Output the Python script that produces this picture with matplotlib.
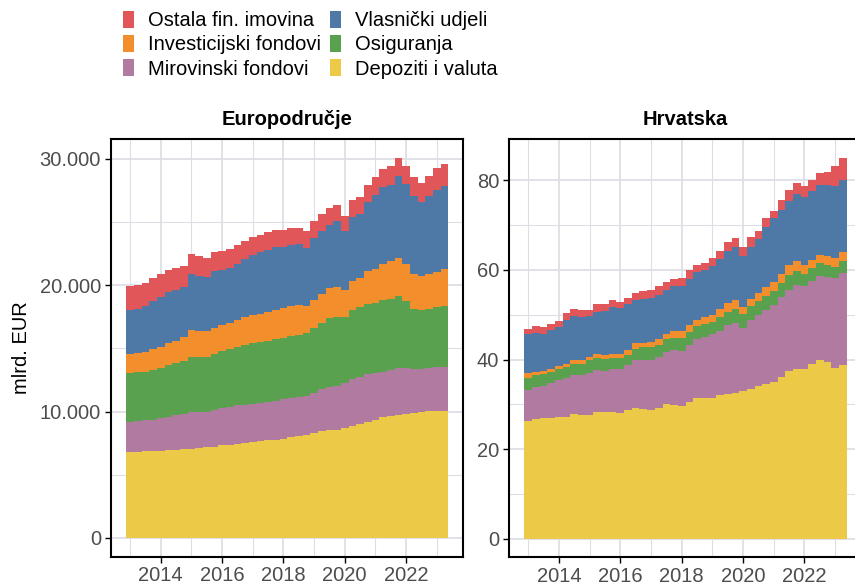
import matplotlib
matplotlib.use("Agg")
import matplotlib.pyplot as plt
from matplotlib.patches import Patch
from matplotlib.ticker import FuncFormatter, MultipleLocator

plt.rcParams['font.family'] = ['Liberation Sans', 'DejaVu Sans']

# quarters 2013Q1 .. 2023Q2 (decimal years)
quarters = [2013 + 0.25 * i for i in range(42)]

series_names = ["Depoziti i valuta", "Mirovinski fondovi", "Osiguranja",
                "Investicijski fondovi", "Vlasnički udjeli", "Ostala fin. imovina"]
colors = ["#EDC948", "#B07AA1", "#59A14F", "#F28E2B", "#4E79A7", "#E15759"]

# Europodručje (mlrd. EUR)
ea_depoziti = [6800, 6800, 6850, 6880, 6900, 6930, 6960, 7010, 7060, 7110, 7190, 7240, 7320, 7370,
               7450, 7510, 7590, 7660, 7740, 7790, 7850, 8000, 8110, 8190, 8320, 8430, 8530, 8580,
               8690, 8900, 9050, 9210, 9370, 9580, 9690, 9770, 9840, 9900, 9970, 10030, 10080, 10080]
ea_mirovinski = [2340, 2420, 2450, 2470, 2580, 2680, 2780, 2810, 2920, 2840, 2810, 2900, 2950, 3030,
                 3060, 3050, 3020, 3010, 3000, 3080, 3130, 3040, 3030, 3080, 3130, 3360, 3450, 3480,
                 3550, 3660, 3720, 3770, 3660, 3580, 3600, 3650, 3580, 3470, 3380, 3420, 3420, 3450]
ea_osiguranja = [3940, 3890, 3860, 3940, 3940, 4050, 4080, 4210, 4360, 4340, 4340, 4420, 4520, 4550,
                 4620, 4700, 4840, 4860, 4870, 4840, 4860, 4910, 4890, 4920, 5180, 5260, 5440, 5390,
                 5260, 5470, 5470, 5570, 5580, 5660, 5660, 5740, 5320, 4790, 4680, 4680, 4740, 4810]
ea_investicijski = [1450, 1500, 1550, 1630, 1660, 1740, 1760, 1840, 2110, 2110, 2060, 2070, 2050, 2100,
                    2110, 2190, 2180, 2230, 2290, 2370, 2350, 2400, 2370, 2180, 2240, 2290, 2370, 2420,
                    2110, 2310, 2360, 2550, 2710, 2890, 2940, 3000, 2920, 2760, 2680, 2740, 2810, 2920]
ea_vlasnicki = [3550, 3520, 3630, 3820, 4000, 4050, 4080, 4000, 4440, 4360, 4230, 4500, 4400, 4340,
                4470, 4630, 4790, 4840, 4860, 4920, 4860, 4830, 4830, 4600, 4860, 4920, 4940, 5180,
                4680, 5050, 5050, 5480, 5830, 6050, 6080, 6470, 6360, 6130, 5870, 6180, 6520, 6630]
ea_ostala = [1870, 1870, 1840, 1840, 1790, 1790, 1710, 1680, 1580, 1530, 1500, 1530, 1470, 1450,
             1450, 1390, 1370, 1370, 1420, 1390, 1310, 1320, 1290, 1320, 1350, 1340, 1400, 1340,
             1230, 1370, 1370, 1390, 1400, 1440, 1450, 1440, 1450, 1550, 1490, 1580, 1690, 1710]

# Hrvatska (mlrd. EUR)
hr_depoziti = [26.4, 26.7, 26.9, 27.0, 27.2, 27.3, 27.8, 27.6, 27.6, 28.3, 28.3, 28.3, 28.1, 28.7,
               29.1, 29.0, 28.7, 29.1, 30.0, 29.9, 29.6, 30.6, 31.4, 31.5, 31.4, 32.0, 32.4, 32.6,
               32.9, 33.5, 34.0, 34.6, 35.0, 36.2, 37.4, 37.9, 37.9, 38.9, 39.9, 39.4, 38.1, 38.7]
hr_mirovinski = [6.9, 7.2, 7.2, 7.7, 8.2, 8.5, 8.7, 8.9, 9.5, 9.3, 9.1, 9.5, 9.9, 10.0,
                 10.8, 11.0, 11.3, 11.5, 11.7, 12.3, 12.3, 12.7, 13.1, 13.5, 14.2, 14.4, 15.2, 15.5,
                 14.1, 15.4, 16.0, 16.5, 17.2, 17.7, 18.2, 18.8, 18.4, 18.7, 18.8, 19.1, 20.0, 20.6]
hr_osiguranja = [2.7, 2.6, 2.6, 2.6, 2.4, 2.6, 2.5, 2.6, 2.8, 2.8, 2.7, 2.6, 2.4, 2.3,
                 2.5, 2.7, 2.7, 2.7, 2.8, 2.7, 2.8, 2.8, 2.9, 3.0, 2.7, 3.0, 3.1, 3.2,
                 3.1, 3.0, 3.0, 3.0, 3.0, 3.1, 3.3, 3.1, 2.7, 2.8, 2.8, 2.6, 2.6, 2.7]
hr_investicijski = [0.9, 0.8, 0.7, 0.7, 0.8, 0.6, 0.9, 0.9, 0.7, 0.9, 0.9, 0.9, 0.9, 1.1,
                    1.2, 1.1, 1.2, 1.2, 1.3, 1.5, 1.7, 1.5, 1.5, 1.4, 1.7, 1.9, 1.9, 2.0,
                    1.6, 1.7, 1.8, 2.0, 2.0, 2.1, 2.1, 2.2, 2.1, 1.8, 1.8, 2.0, 1.9, 1.9]
hr_vlasnicki = [8.7, 8.6, 8.4, 8.5, 8.7, 9.9, 9.9, 9.5, 9.0, 9.4, 9.8, 10.4, 10.2, 10.2,
                9.7, 9.8, 9.9, 9.9, 9.6, 9.9, 10.1, 10.4, 10.6, 10.6, 10.9, 11.1, 11.5, 11.7,
                11.3, 11.6, 12.0, 13.5, 14.3, 14.2, 14.4, 14.8, 15.2, 15.4, 15.6, 15.8, 16.1, 16.2]
hr_ostala = [1.3, 1.6, 1.5, 1.5, 1.4, 1.5, 1.5, 1.5, 1.4, 1.6, 1.5, 1.5, 1.3, 1.5,
             1.6, 1.6, 1.6, 1.9, 1.9, 1.7, 1.6, 1.9, 1.6, 1.6, 1.7, 1.8, 2.0, 2.0,
             2.0, 2.1, 1.9, 2.0, 1.6, 2.3, 2.4, 2.5, 2.4, 2.5, 2.7, 3.0, 4.4, 4.9]

ea_data = [ea_depoziti, ea_mirovinski, ea_osiguranja, ea_investicijski, ea_vlasnicki, ea_ostala]
hr_data = [hr_depoziti, hr_mirovinski, hr_osiguranja, hr_investicijski, hr_vlasnicki, hr_ostala]

W, H = 855, 587
fig = plt.figure(figsize=(W / 100, H / 100), dpi=100)
fig.patch.set_facecolor("white")

def px_axes(x0, y0, x1, y1):
    return fig.add_axes([x0 / W, 1 - y1 / H, (x1 - x0) / W, (y1 - y0) / H])

ax1 = px_axes(110.7, 139.3, 463.0, 556.7)
ax2 = px_axes(509.0, 139.3, 861.3, 557.3)

grid_c = "#DEDFE6"
tick_c = "#4D4D4D"

def draw(ax, data, ylim, major, minor, fmt, title):
    bottom = [0.0] * len(quarters)
    for vals, col in zip(data, colors):
        ax.bar(quarters, vals, width=0.25, bottom=bottom, color=col, linewidth=0,
               align="center", zorder=2)
        bottom = [b + v for b, v in zip(bottom, vals)]
    ax.set_xlim(2012.37, 2023.857)
    ax.set_ylim(*ylim)
    ax.xaxis.set_major_locator(MultipleLocator(2))
    ax.xaxis.set_minor_locator(MultipleLocator(1))
    ax.yaxis.set_major_locator(MultipleLocator(major))
    ax.yaxis.set_minor_locator(MultipleLocator(minor))
    ax.xaxis.set_major_formatter(FuncFormatter(lambda v, p: f"{int(round(v))}"))
    ax.yaxis.set_major_formatter(FuncFormatter(fmt))
    ax.grid(which="major", color=grid_c, linewidth=1.3, zorder=0)
    ax.grid(which="minor", color=grid_c, linewidth=0.8, zorder=0)
    ax.set_axisbelow(True)
    ax.tick_params(which="major", direction="out", length=4.5, width=1.0, color="black",
                   labelcolor=tick_c, labelsize=14.5, pad=2.5)
    ax.tick_params(which="minor", length=0)
    for s in ax.spines.values():
        s.set_linewidth(1.5)
        s.set_color("black")
        s.set_zorder(5)
    ax.set_title(title, fontsize=14.5, fontweight="bold", pad=10, color="black")

ea_fmt = lambda v, p: f"{int(round(v)):,}".replace(",", ".")
hr_fmt = lambda v, p: f"{int(round(v))}"

draw(ax1, ea_data, (-1480, 31550), 10000, 5000, ea_fmt, "Europodručje")
draw(ax2, hr_data, (-4.08, 89.1), 20, 10, hr_fmt, "Hrvatska")

ax1.set_ylabel("mlrd. EUR", fontsize=14.5, color="black", labelpad=6)

# legend (order as in reference: column-wise)
order = [5, 3, 1, 4, 2, 0]
handles = [Patch(facecolor=colors[i], edgecolor="none") for i in order]
labels = [series_names[i] for i in order]
fig.legend(handles, labels, ncol=2, loc="upper left",
           bbox_to_anchor=(122.5 / W, 1 - 11 / H), frameon=False, fontsize=14.5,
           handlelength=0.55, handleheight=0.9, handletextpad=0.7,
           columnspacing=0.45, labelspacing=0.24, borderaxespad=0, borderpad=0)

fig.savefig("out.png", dpi=100)
